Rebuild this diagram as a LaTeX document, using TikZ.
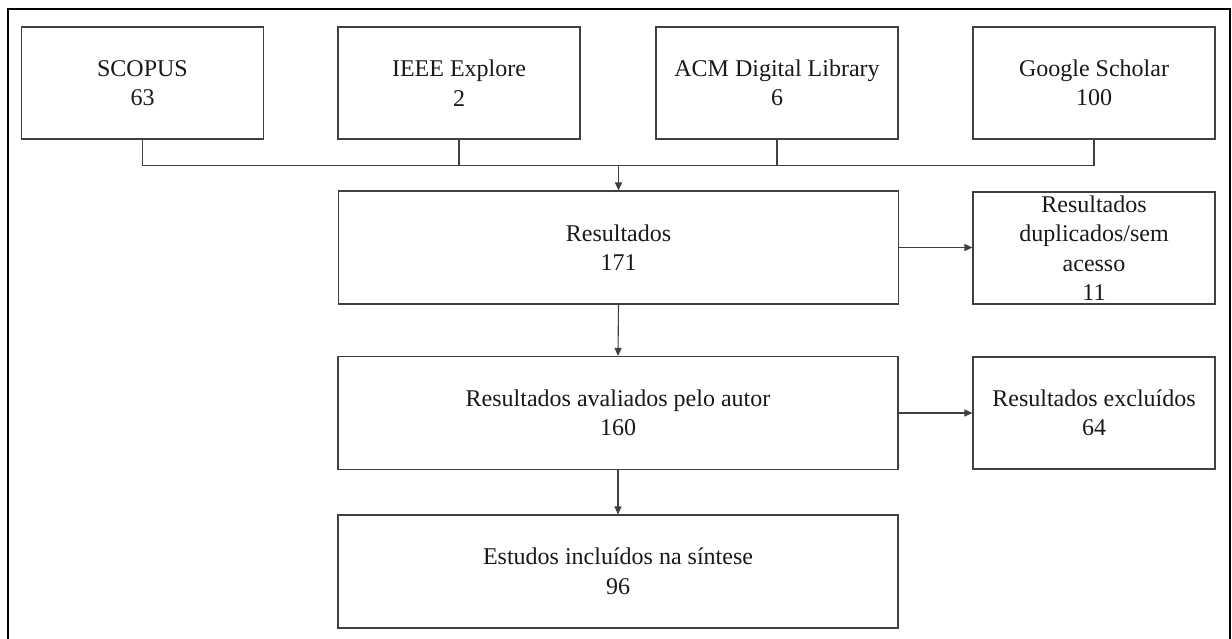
\documentclass[tikz,border=0pt]{standalone}
\usepackage{fontspec}
\setmainfont{Liberation Serif}
\usetikzlibrary{arrows.meta}
\definecolor{boxline}{HTML}{404040}
\begin{document}
\begin{tikzpicture}[x=1pt,y=-1pt,
  box/.style={draw=boxline, line width=1.1pt, inner sep=0pt, align=center,
    font=\fontsize{24}{29.5}\selectfont, text=black!90},
  small/.style={box, minimum width=242pt, minimum height=112pt},
  wide/.style={box, minimum width=560pt, minimum height=113pt},
  conn/.style={draw=boxline, line width=1.1pt},
  arr/.style={conn, -{Triangle[length=8pt,width=7pt]}},
  frame/.style={draw=black, line width=2pt}
]
\useasboundingbox (0,0) rectangle (1232,639);
\fill[white] (0,0) rectangle (1232,639);
% outer frame (bottom edge lies outside the picture)
\draw[frame] (8,660) -- (8,9.5) -- (1229.5,9.5) -- (1229.5,660);

\node[small] (scopus) at (142.5,83) {SCOPUS\\63};
\node[small] (ieee)   at (459,83)   {IEEE Explore\\2};
\node[small] (acm)    at (777,83)   {ACM Digital Library\\6};
\node[small] (google) at (1094,83)  {Google Scholar\\100};

\node[wide] (res)  at (618.5,247.5) {Resultados\\171};
\node[small, inner ysep=-3pt] (dup) at (1094,248) {Resultados\\duplicados/sem\\acesso\\11};
\node[wide] (aval) at (618,413) {Resultados avaliados pelo autor\\160};
\node[small] (excl) at (1094,413) {Resultados excluídos\\64};
\node[wide] (est)  at (618,571.5) {Estudos incluídos na síntese\\96};

\coordinate (bus) at (618.5,165.5);
\draw[conn] (scopus.south) -- (scopus.south |- bus) -- (google.south |- bus) -- (google.south);
\draw[conn] (ieee.south) -- (ieee.south |- bus);
\draw[conn] (acm.south) -- (acm.south |- bus);
\draw[arr] (bus) -- (res.north);
\draw[arr] (res.east) -- (dup.west |- res.east);
\draw[arr] (res.south) -- (aval.north);
\draw[arr] (aval.east) -- (excl.west);
\draw[arr] (aval.south) -- (est.north);
\end{tikzpicture}
\end{document}
